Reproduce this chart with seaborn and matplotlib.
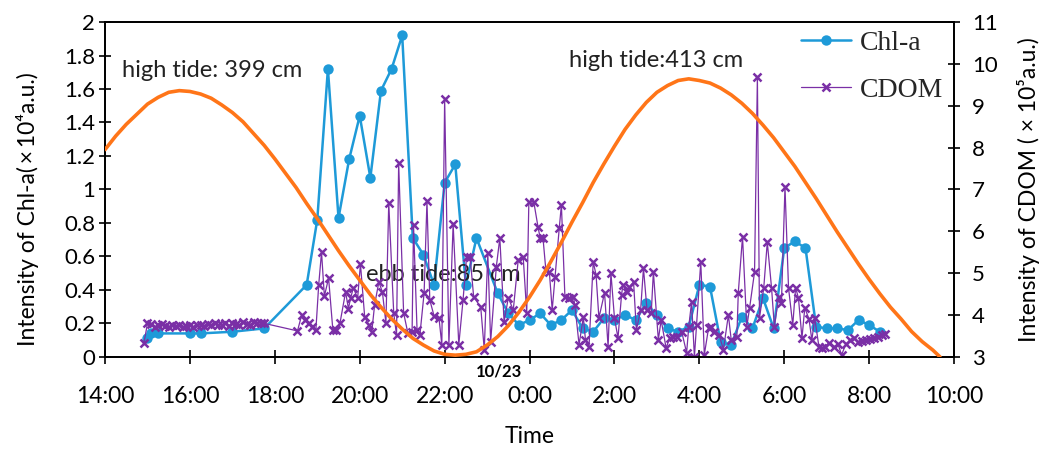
import numpy as np
import pandas as pd
import matplotlib.pyplot as plt
import seaborn as sns

# ---------------- data (22-23 Oct) ----------------
tide_time = ["14:00", "14:15", "14:30", "14:45", "15:00", "15:15", "15:30", "15:45", "16:00",
             "16:15", "16:30", "16:45", "17:00", "17:15", "17:30", "17:45", "18:00", "18:15",
             "18:30", "18:45", "19:00", "19:15", "19:30", "19:45", "20:00", "20:15", "20:30",
             "20:45", "21:00", "21:15", "21:30", "21:45", "22:00", "22:15", "22:30", "22:45",
             "23:00", "23:15", "23:30", "23:45", "0:00", "0:15", "0:30", "0:45", "1:00",
             "1:15", "1:30", "1:45", "2:00", "2:15", "2:30", "2:45", "3:00", "3:15",
             "3:30", "3:45", "4:00", "4:15", "4:30", "4:45", "5:00", "5:15", "5:30",
             "5:45", "6:00", "6:15", "6:30", "6:45", "7:00", "7:15", "7:30", "7:45",
             "8:00", "8:15", "8:30", "8:45", "9:00", "9:15", "9:30", "9:40"]
tide_cm = [329, 345, 359, 371, 383, 391, 397, 399, 398,
           395, 390, 382, 373, 362, 348, 334, 318, 301,
           284, 265, 247, 228, 209, 191, 174, 157, 142,
           128, 116, 105, 97, 90, 86, 85, 86, 89,
           97, 107, 120, 136, 154, 174, 196, 219, 243,
           266, 290, 312, 333, 353, 370, 385, 397, 405,
           411, 413, 411, 408, 402, 394, 384, 372, 358,
           343, 326, 309, 290, 271, 251, 231, 212, 193,
           175, 158, 142, 128, 113, 101, 91, 83]

chl_time = ["15:00", "15:05", "15:15", "16:00", "16:15", "17:00", "17:45", "18:45", "19:00",
            "19:15", "19:30", "19:45", "20:00", "20:15", "20:30", "20:45", "21:00", "21:15",
            "21:30", "21:45", "22:00", "22:15", "22:30", "22:45", "23:15", "23:30", "23:45",
            "0:00", "0:15", "0:30", "0:45", "1:00", "1:15", "1:30", "1:45", "2:00", "2:15",
            "2:30", "2:45", "3:00", "3:15", "3:30", "3:45", "4:00", "4:15", "4:30", "4:45",
            "5:00", "5:15", "5:30", "5:45", "6:00", "6:15", "6:30", "6:45", "7:00", "7:15",
            "7:30", "7:45", "8:00", "8:15"]
chl_a = [0.11, 0.14, 0.14, 0.14, 0.14, 0.15, 0.17, 0.43, 0.82,
         1.72, 0.83, 1.18, 1.44, 1.07, 1.59, 1.72, 1.92, 0.71,
         0.61, 0.43, 1.04, 1.15, 0.43, 0.71, 0.38, 0.26, 0.19,
         0.22, 0.26, 0.19, 0.22, 0.28, 0.17, 0.15, 0.23, 0.22, 0.25,
         0.22, 0.32, 0.25, 0.17, 0.15, 0.18, 0.43, 0.42, 0.09, 0.07,
         0.24, 0.17, 0.35, 0.17, 0.65, 0.69, 0.65, 0.18, 0.17, 0.17,
         0.16, 0.22, 0.19, 0.15]

cdom_time = ["14:55", "15:00", "15:05", "15:10", "15:15", "15:20", "15:25", "15:30", "15:35",
             "15:40", "15:45", "15:50", "15:55", "16:00", "16:05", "16:10", "16:15", "16:20",
             "16:25", "16:30", "16:35", "16:40", "16:45", "16:50", "16:55", "17:00", "17:05",
             "17:10", "17:15", "17:20", "17:25", "17:30", "17:35", "17:40", "17:45",
             "18:32", "18:38", "18:42", "18:48", "18:53", "18:58", "19:02", "19:06", "19:10",
             "19:16", "19:22", "19:26", "19:32", "19:40", "19:44", "19:47", "19:51", "19:57",
             "20:01", "20:07", "20:13", "20:17", "20:21", "20:27", "20:32", "20:37", "20:41",
             "20:48", "20:52", "20:55", "21:02", "21:08", "21:14", "21:16", "21:21", "21:25",
             "21:31", "21:35", "21:39", "21:45", "21:52", "21:56", "22:00", "22:06", "22:12",
             "22:20", "22:26", "22:31", "22:36", "22:41", "22:51", "22:56", "23:01", "23:05",
             "23:13", "23:18", "23:24", "23:30", "23:37", "23:44", "23:51", "23:56", "23:59",
             "0:06", "0:12", "0:15", "0:19", "0:23", "0:28", "0:32", "0:36", "0:42",
             "0:45", "0:50", "0:56", "1:02", "1:04", "1:10", "1:16", "1:19", "1:24",
             "1:30", "1:34", "1:38", "1:46", "1:51", "1:55", "2:00", "2:05", "2:10",
             "2:12", "2:18", "2:21", "2:27", "2:31", "2:37", "2:41", "2:46", "2:52",
             "2:55", "3:02", "3:06", "3:13", "3:18", "3:23", "3:28", "3:35", "3:42",
             "3:45", "3:49", "3:53", "3:56", "4:02", "4:07", "4:13", "4:17", "4:21",
             "4:28", "4:34", "4:41", "4:45", "4:53", "4:55", "5:01", "5:07", "5:11",
             "5:18", "5:22", "5:25", "5:31", "5:36", "5:42", "5:46", "5:52", "5:56",
             "6:01", "6:06", "6:12", "6:16", "6:20", "6:25", "6:29", "6:35", "6:39",
             "6:43", "6:49", "6:53", "6:57", "7:03", "7:10", "7:16", "7:21", "7:27",
             "7:33", "7:38", "7:44", "7:50", "7:55", "8:01", "8:07", "8:12", "8:18", "8:22"]
cdom = [3.33, 3.80, 3.78, 3.72, 3.75, 3.78, 3.74, 3.72, 3.76,
        3.73, 3.75, 3.71, 3.74, 3.76, 3.72, 3.75, 3.77, 3.74,
        3.78, 3.76, 3.80, 3.75, 3.77, 3.80, 3.74, 3.82, 3.78,
        3.75, 3.84, 3.79, 3.77, 3.83, 3.80, 3.82, 3.80,
        3.62, 4.00, 3.88, 3.82, 3.72, 3.64, 4.72, 5.50, 4.45,
        4.88, 3.64, 3.64, 3.80, 4.55, 4.15, 4.40, 4.65, 4.40,
        5.22, 3.95, 3.76, 3.60, 4.24, 4.79, 4.55, 3.81, 6.68,
        4.05, 3.52, 7.63, 4.05, 3.57, 3.60, 6.15, 3.64, 3.52,
        4.53, 6.72, 4.36, 3.98, 3.93, 3.29, 9.16, 3.29, 6.17,
        3.29, 4.36, 5.39, 5.39, 4.43, 4.19, 3.17, 5.48, 3.36,
        5.15, 5.84, 3.84, 4.41, 4.12, 5.32, 5.39, 4.05, 6.70,
        6.70, 6.10, 5.84, 5.84, 5.08, 5.03, 4.12, 4.91, 6.08,
        6.63, 4.43, 4.41, 4.43, 4.24, 3.29, 3.95, 3.41, 3.24,
        5.27, 4.96, 3.93, 4.53, 3.24, 5.00, 3.93, 3.45, 4.48,
        4.72, 4.55, 4.67, 4.79, 3.64, 4.12, 5.12, 4.12, 4.05,
        5.03, 3.41, 3.88, 3.21, 3.45, 3.48, 3.48, 3.60, 3.10,
        3.72, 4.31, 3.00, 3.76, 5.27, 3.05, 3.69, 3.72, 3.60,
        3.52, 3.17, 4.00, 3.41, 3.48, 4.53, 5.87, 3.72, 4.17,
        5.03, 9.68, 3.93, 4.65, 5.74, 4.65, 3.72, 4.43, 4.29,
        7.06, 4.65, 3.76, 4.65, 4.41, 3.45, 4.17, 3.90, 3.40,
        3.93, 3.24, 3.22, 3.24, 3.33, 3.24, 3.30, 3.05, 3.30,
        3.40, 3.45, 3.35, 3.38, 3.40, 3.42, 3.45, 3.48, 3.52, 3.55]

x_tick_labels = ["14:00", "16:00", "18:00", "20:00", "22:00", "0:00",
                 "2:00", "4:00", "6:00", "8:00", "10:00"]
chl_ticks = [0, 0.2, 0.4, 0.6, 0.8, 1, 1.2, 1.4, 1.6, 1.8, 2]
cdom_ticks = [3, 4, 5, 6, 7, 8, 9, 10, 11]


def hours_since_14(t):
    # clock time -> hours after 14:00 on 10/22
    h, m = map(int, t.split(":"))
    v = h + m / 60 - 14
    return v + 24 if v < 0 else v


tide = pd.DataFrame({"t": [hours_since_14(t) for t in tide_time], "cm": tide_cm})
chl = pd.DataFrame({"t": [hours_since_14(t) for t in chl_time], "v": chl_a})
cd = pd.DataFrame({"t": [hours_since_14(t) for t in cdom_time], "v": cdom})

# ---------------- style ----------------
sns.set_theme(style="ticks")
plt.rcParams["font.family"] = ["Lato", "DejaVu Sans"]
plt.rcParams["axes.edgecolor"] = "black"
plt.rcParams["axes.linewidth"] = 1.3

blue = "#1E9AD8"
purple = "#7A2FA6"
orange = "#FF7518"

fig, ax = plt.subplots(figsize=(10.45, 4.5), dpi=100)
fig.subplots_adjust(left=0.1005, right=0.913, top=0.951, bottom=0.207)
ax2 = ax.twinx()
ax3 = ax.twinx()

sns.lineplot(data=chl, x="t", y="v", ax=ax, color=blue, lw=1.8, marker="o", ms=7.5,
             mec=blue, mew=0, label="Chl-a", legend=False, sort=False)
sns.lineplot(data=cd, x="t", y="v", ax=ax2, color=purple, lw=0.9, marker="x", ms=6,
             mec=purple, mew=1.8, label="CDOM", legend=False, sort=False)
sns.lineplot(data=tide, x="t", y="cm", ax=ax3, color=orange, lw=2.6, legend=False, sort=False)

# axes ranges
ax.set_xlim(0, 20)
ax.set_ylim(0, 2)
ax2.set_ylim(3, 11)
ax3.set_ylim(83, 83 + 2 * 198.7)
ax3.axis("off")

ax.set_xticks(np.arange(0, 21, 2))
ax.set_xticklabels(x_tick_labels)
ax.set_yticks(chl_ticks)
ax.set_yticklabels([f"{v:g}" for v in chl_ticks])
ax2.set_yticks(cdom_ticks)

ax.tick_params(axis="x", direction="inout", length=10, width=1.2, pad=16, labelsize=16.5,
               colors="black")
ax.tick_params(axis="y", direction="inout", length=8, width=1.2, pad=3, labelsize=16,
               colors="black")
ax2.tick_params(axis="y", direction="inout", length=8, width=1.2, pad=9, labelsize=16,
                colors="black")

ax.set_xlabel("Time", fontsize=16.5, labelpad=14, color="black")
ax.set_ylabel("Intensity of Chl-a(\u2009×\u200910⁴a.u.)", fontsize=16.5, color="black")
ax.yaxis.set_label_coords(-0.078, 0.44)
ax2.set_ylabel("Intensity of CDOM ( × 10⁵a.u.)", fontsize=16.5, labelpad=14, color="black")

for a in (ax, ax2):
    for s in a.spines.values():
        s.set_color("black")
        s.set_linewidth(1.3)

# date marker under midnight
ax.text(9.28, -0.045, "10/23", transform=ax.get_xaxis_transform(), ha="center",
        va="center", fontsize=12, fontweight="bold", color="black")

# tide annotations
ax.text(0.4, 1.71, "high tide: 399 cm", fontsize=17, va="center", color="#222222")
ax.text(6.14, 0.49, "ebb tide:85 cm", fontsize=17, va="center", color="#222222")
ax.text(10.93, 1.77, "high tide:413 cm", fontsize=17, va="center", color="#222222")

h1, l1 = ax.get_legend_handles_labels()
h2, l2 = ax2.get_legend_handles_labels()
ax3.legend(h1 + h2, l1 + l2, loc="upper left", bbox_to_anchor=(0.82, 0.975),
           frameon=False, borderpad=0, borderaxespad=0, handlelength=1.8,
           handletextpad=0.3, labelspacing=0.78,
           prop={"family": "Liberation Serif", "size": 20})

fig.savefig("out.png", dpi=100)
